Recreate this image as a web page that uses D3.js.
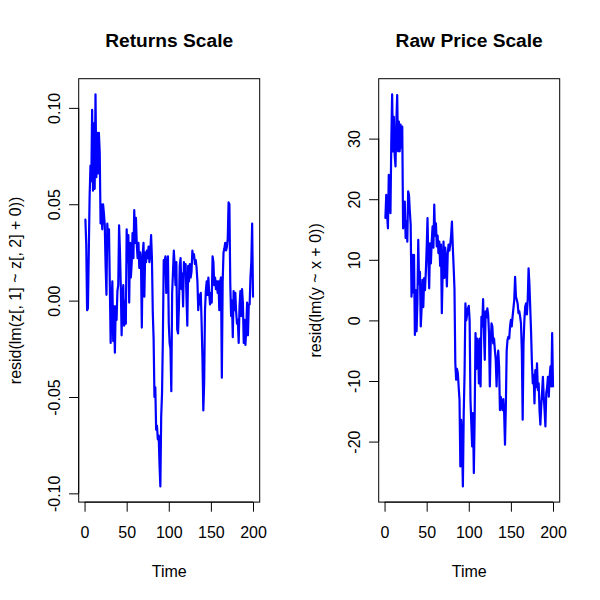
<!DOCTYPE html>
<html><head><meta charset="utf-8">
<script src="https://cdn.jsdelivr.net/npm/d3@7"></script>
<style>body{margin:0;background:#fff}svg{display:block;background:#fff}</style>
</head><body><svg id="c" width="600" height="600"></svg>
<script>
const time = d3.range(1, 201);
const returnsResid = [
0.042,0.029,-0.005,-0.004,0.025,0.054,0.07,0.062,0.099,0.057,
0.092,0.058,0.107,0.064,0.087,0.066,0.087,0.077,0.04,0.05,
0.037,0.05,0.045,0.039,0.018,0.003,0.04,0.03,0.037,0.008,
-0.022,-0.001,0.01,-0.021,-0.003,-0.027,-0.003,-0.01,0.005,0.008,
0.039,0.026,0.008,-0.018,0.002,0.008,-0.013,0.0,-0.012,0.037,
0.02,0.034,-0.001,0.03,0.012,0.02,0.035,0.022,0.047,0.03,
0.043,0.029,0.022,0.03,0.017,0.025,0.02,-0.014,0.024,0.03,
0.002,0.025,0.02,0.026,0.022,0.028,0.02,0.025,0.034,0.022,
-0.006,-0.02,-0.05,-0.045,-0.067,-0.065,-0.072,-0.07,-0.085,-0.0964,
-0.06,-0.048,-0.019,0.021,0.02,0.023,0.004,0.018,0.023,-0.012,
-0.022,-0.025,-0.047,0.004,0.015,0.026,0.018,0.008,0.02,-0.015,
-0.017,-0.004,0.018,0.022,0.006,0.014,-0.003,0.02,0.014,0.019,
0.002,-0.013,0.018,0.01,0.019,0.012,0.015,0.026,0.022,0.024,
0.019,0.021,0.017,0.01,-0.005,0.003,-0.002,0.004,-0.012,-0.03,
-0.057,-0.043,-0.005,0.005,0.01,0.003,0.012,0.004,-0.002,0.004,
-0.001,0.023,0.02,0.008,0.012,0.006,0.01,0.004,0.01,-0.005,
0.01,0.012,-0.04,0.01,0.025,0.027,0.03,0.026,0.028,0.032,
0.051,0.05,0.009,-0.008,0.0,-0.019,0.005,-0.005,0.004,-0.006,
-0.012,-0.01,-0.022,-0.003,0.005,-0.008,0.006,-0.001,-0.022,-0.01,
-0.023,-0.015,-0.001,-0.018,-0.002,-0.002,0.012,0.02,0.04,0.002
];
const priceResid = [
16.9,20.7,17.5,15.2,24,22.4,17.7,29.5,37.3,27.9,
33.6,27.3,25.4,32.8,37.2,27.9,32.8,27.9,32.3,28.5,
32,15.2,16.3,19.6,13.6,16.3,13,21.3,20.7,18,
15.8,3.9,10.8,4.6,10.8,-2.4,5,-1.8,3,13.3,
6,8,-1,2,6.7,2.2,7,5,8,12,
16.9,10,5.3,12.7,9.4,13,15.5,12,19.1,14,
16,12.2,14,11.1,13,9,12.5,1.2,8,13,
7,12,10,5.6,11,12.5,11.5,12.5,14,16.3,
12.2,8.9,5.3,-7,-9.8,-8,-8.7,-11,-13.1,-24.1,
-16.4,-20,-27.4,-15.3,-8.7,2.8,0,1,2,2.4,
0,-13,-17,-20.8,-15.3,-25.2,-15.8,-2.1,-8,-3,
-4,-10.4,-3,-10.9,0.6,-1,3.5,-2,-6.5,1.5,
0.5,2,1,-2.1,-10.9,-4,-0.5,-1,-3.8,-3,
-4.9,-6.5,-10.9,-6.5,-5,-7.6,-14.8,-12.6,-14,-14.8,
-13,-15.3,-20.5,-14.2,-5,-3.2,-2.7,-3,-1,0.1,
-1,0.6,2,3.4,7.2,3.9,3.4,2.8,1.2,1.5,
0.6,-0.5,-5,-16.4,-3.8,0,2.3,2.8,1,3.4,
8.6,6,2,-2.1,-7.1,-10.4,-9,-13.7,-8.2,-11,
-7.1,-11.5,-10.4,-14.8,-17.2,-14.2,-12,-9.3,-12.6,-14.8,
-17.5,-12,-11,-9.3,-12.6,-9.3,-7.6,-10.9,-2.1,-10.9
];
const xTicks = [0, 50, 100, 150, 200];
const returnsTicks = [-0.10, -0.05, 0, 0.05, 0.10];
const returnsTickLabels = ["-0.10", "-0.05", "0.00", "0.05", "0.10"];
const priceTicks = [-20, -10, 0, 10, 20, 30];
const priceTickLabels = ["-20", "-10", "0", "10", "20", "30"];
const titles = ["Returns Scale", "Raw Price Scale"];
const yLabels = ["resid(lm(z[, 1] ~ z[, 2] + 0))", "resid(lm(y ~ x + 0))"];
const xLabel = "Time";

const FONT = '"Liberation Sans", Arial, Helvetica, sans-serif';
const svg = d3.select("#c");
svg.append("rect").attr("width", 600).attr("height", 600).attr("fill", "#fff");

const TOP = 78.7, BOTTOM = 502.1, LINE = 19.2;

function pad([a, b]) { const r = b - a; return [a - 0.04 * r, b + 0.04 * r]; }

function panel(left, right, values, yt, ytl, title, ylab) {
  const g = svg.append("g");
  const x = d3.scaleLinear().domain(pad(d3.extent(time))).range([left, right]);
  const y = d3.scaleLinear().domain(pad(d3.extent(values))).range([BOTTOM, TOP]);

  g.append("path").datum(values)
    .attr("d", d3.line().x((d, i) => x(time[i])).y(d => y(d)))
    .attr("fill", "none").attr("stroke", "#0000ff").attr("stroke-width", 2.2)
    .attr("stroke-linejoin", "round").attr("stroke-linecap", "round");

  g.append("rect").attr("x", left).attr("y", TOP)
    .attr("width", right - left).attr("height", BOTTOM - TOP)
    .attr("fill", "none").attr("stroke", "#000").attr("stroke-width", 1);

  // x axis
  const xa = g.append("g").attr("transform", `translate(0,${BOTTOM})`)
    .call(d3.axisBottom(x).tickValues(xTicks).tickSize(LINE / 2).tickFormat(d3.format("d")));
  xa.attr("font-size", 16).attr("font-family", FONT);
  xa.select(".domain").remove();
  xa.append("line").attr("x1", x(xTicks[0])).attr("x2", x(xTicks[xTicks.length - 1]))
    .attr("stroke", "#000");
  xa.selectAll(".tick line").attr("stroke", "#000");
  xa.selectAll(".tick text").attr("y", 35.9).attr("dy", null).attr("fill", "#000");

  // y axis
  const ya = g.append("g").attr("transform", `translate(${left},0)`)
    .call(d3.axisLeft(y).tickValues(yt).tickSize(LINE / 2).tickFormat((d, i) => ytl[i]));
  ya.attr("font-size", 16).attr("font-family", FONT);
  ya.select(".domain").remove();
  ya.append("line").attr("y1", y(yt[0])).attr("y2", y(yt[yt.length - 1]))
    .attr("stroke", "#000");
  ya.selectAll(".tick line").attr("stroke", "#000");
  ya.selectAll(".tick text")
    .attr("x", 0).attr("y", -LINE).attr("dy", null)
    .attr("transform", "rotate(-90)")
    .attr("text-anchor", "middle").attr("fill", "#000");

  const cx = (left + right) / 2, cy = (TOP + BOTTOM) / 2;
  g.append("text").attr("x", cx).attr("y", 46.7)
    .attr("text-anchor", "middle").attr("font-family", FONT)
    .attr("font-weight", "bold").attr("font-size", 19.2).text(title);
  g.append("text").attr("x", cx).attr("y", 577)
    .attr("text-anchor", "middle").attr("font-family", FONT)
    .attr("font-size", 16).text(xLabel);
  g.append("text")
    .attr("transform", `translate(${left - 3 * LINE},${cy}) rotate(-90)`)
    .attr("text-anchor", "middle").attr("font-family", FONT)
    .attr("font-size", 16).text(ylab);
}

panel(78.7, 259.7, returnsResid, returnsTicks, returnsTickLabels, titles[0], yLabels[0]);
panel(378.7, 559.7, priceResid, priceTicks, priceTickLabels, titles[1], yLabels[1]);
</script>
</body></html>
